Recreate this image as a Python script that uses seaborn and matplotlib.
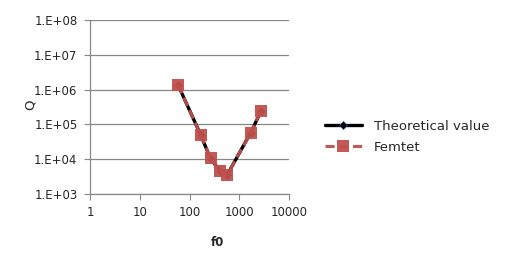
import matplotlib
matplotlib.use("Agg")
import matplotlib.pyplot as plt
import seaborn as sns
import pandas as pd
from matplotlib.ticker import FixedLocator, NullLocator

f0 = [59, 168, 267, 410, 575, 1700, 2735]
q_theory = [1.35e6, 5.0e4, 1.0e4, 4.7e3, 3.6e3, 5.8e4, 2.4e5]
q_femtet = [1.35e6, 5.0e4, 1.05e4, 4.7e3, 3.6e3, 5.8e4, 2.45e5]
x_ticks = [1, 10, 100, 1000, 10000]
x_labels = ["1", "10", "100", "1000", "10000"]
y_ticks = [1e3, 1e4, 1e5, 1e6, 1e7, 1e8]
y_labels = ["1.E+03", "1.E+04", "1.E+05", "1.E+06", "1.E+07", "1.E+08"]

sns.set_style("white")
plt.rcParams['font.family'] = ['DejaVu Sans']

fig = plt.figure(figsize=(5.21, 2.63), dpi=100)
ax = fig.add_axes([90/521, 1-194/263, 199/521, 174/263])

df_t = pd.DataFrame({"f0": f0, "Q": q_theory})
df_f = pd.DataFrame({"f0": f0, "Q": q_femtet})

sns.lineplot(data=df_t, x="f0", y="Q", ax=ax, color="black", lw=2.4,
             marker="D", markersize=4, markeredgecolor="#1f4e8c", markeredgewidth=0.5,
             label="Theoretical value", zorder=3)
sns.lineplot(data=df_f, x="f0", y="Q", ax=ax, color="#C0504D", lw=2.2,
             linestyle=(0, (3, 1.5)), marker="s", markersize=8.5, markeredgewidth=0,
             label="Femtet", zorder=4, alpha=0.95)

ax.set_xscale("log")
ax.set_yscale("log")
ax.set_xlim(1, 10000)
ax.set_ylim(1e3, 1e8)
ax.xaxis.set_major_locator(FixedLocator(x_ticks))
ax.xaxis.set_minor_locator(NullLocator())
ax.yaxis.set_major_locator(FixedLocator(y_ticks))
ax.yaxis.set_minor_locator(NullLocator())
ax.set_xticklabels(x_labels, fontsize=8.5)
ax.set_yticklabels(y_labels, fontsize=8.5)

ax.grid(axis="y", color="#808a80", lw=0.9)
ax.grid(axis="x", visible=False)
for s in ["top", "right"]:
    ax.spines[s].set_visible(False)
ax.spines["left"].set_color("#888888")
ax.spines["bottom"].set_color("#888888")
ax.spines["left"].set_linewidth(0.9)
ax.spines["bottom"].set_linewidth(0.9)
ax.tick_params(axis="both", which="major", length=4, width=0.8, color="#888888",
               direction="out", left=True, bottom=True)
ax.tick_params(axis="y", pad=5)
ax.tick_params(axis="x", pad=5)

ax.set_xlabel("f0", fontsize=8.5, fontweight="bold")
ax.set_ylabel("Q", fontsize=9.5)
ax.xaxis.set_label_coords((217-90)/199, -(242-194)/174)
ax.yaxis.set_label_coords((30-90)/199, (194-105)/174)
ax.xaxis.label.set_va("center")
ax.yaxis.label.set_va("center")

ax.legend(loc="center left", bbox_to_anchor=(1.12, 0.33), frameon=False,
          fontsize=9.5, handlelength=2.8, handletextpad=0.9, labelspacing=0.6)

fig.savefig("out.png", dpi=100)
